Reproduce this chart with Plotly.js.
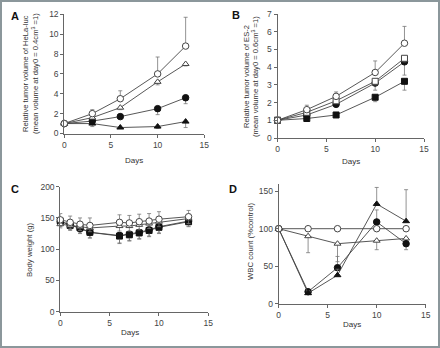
<!DOCTYPE html>
<html><head><meta charset="utf-8">
<script src="https://cdn.plot.ly/plotly-3.0.1.min.js"></script>
<style>html,body{margin:0;padding:0;background:#fff}#c{width:440px;height:348px}</style>
</head><body><div id="c"></div>
<script>
// ---- data ----
const days = [0, 3, 6, 10, 13];
const daysC = [0, 1, 2, 3, 6, 7, 8, 9, 10, 13];

// Panel A: HeLa-luc relative tumor volume
const aOpenCircle = [1, 2.0, 3.5, 6.0, 8.8];
const aOpenCircleErrUp = [0, 0.4, 0.8, 1.7, 2.9];
const aOpenTri = [1, 1.6, 2.6, 5.2, 7.0];
const aOpenTriErrDown = [0, 0.1, 0.2, 0.3, 0.2];
const aFilledCircle = [1, 1.25, 1.7, 2.5, 3.6];
const aFilledCircleErrDown = [0, 0.2, 0.2, 0.6, 0.6];
const aFilledTri = [1, 1.0, 0.6, 0.7, 1.2];
const aFilledTriErrDown = [0, 0.3, 0.1, 0.2, 0.6];

// Panel B: ES-2 relative tumor volume
const bOpenCircle = [1, 1.6, 2.35, 3.7, 5.35];
const bOpenCircleErrUp = [0, 0.25, 0.25, 0.65, 0.95];
const bOpenSquare = [1, 1.45, 2.1, 3.2, 4.5];
const bOpenSquareErrDown = [0, 0.1, 0.15, 0.2, 0.2];
const bFilledCircle = [1, 1.3, 1.9, 3.1, 4.3];
const bFilledCircleErrDown = [0, 0.1, 0.15, 0.4, 0.75];
const bFilledSquare = [1, 1.1, 1.3, 2.3, 3.2];
const bFilledSquareErrDown = [0, 0.1, 0.1, 0.25, 0.5];

// Panel C: body weight
const cOpenCircle = [147, 143, 140, 138, 143, 142, 144, 145, 148, 152];
const cOpenCircleErrUp = [10, 10, 10, 12, 12, 12, 12, 12, 12, 10];
const cOpenTri = [140, 138, 136, 134, 137, 137, 139, 141, 144, 149];
const cOpenTriErrDown = [6, 6, 6, 6, 8, 8, 8, 8, 8, 8];
const cFilledCircle = [144, 140, 133, 127, 122, 124, 127, 131, 136, 145];
const cFilledCircleErrDown = [8, 8, 8, 9, 12, 10, 10, 10, 10, 8];
const cFilledSquare = [145, 138, 134, 127, 121, 123, 126, 130, 135, 144];
const cFilledSquareErrDown = [8, 8, 8, 9, 12, 10, 10, 10, 10, 8];

// Panel D: WBC count
const dOpenCircle = [100, 100, 100, 100, 100];
const dOpenTri = [100, 90, 80, 84, 87];
const dOpenTriErrDown = [0, 22, 24, 12, 7];
const dFilledCircle = [100, 16, 48, 109, 80];
const dFilledCircleErrUp = [0, 3, 15, 16, 0];
const dFilledCircleErrDown = [0, 3, 0, 0, 8];
const dFilledTri = [100, 14, 38, 133, 110];
const dFilledTriErrUp = [0, 3, 8, 22, 42];

// ---- helpers ----
const W = 440, H = 348;
const fx = p => p / W;
const fy = p => 1 - p / H;
const LINE = '#444', ERR = '#777';

function tr(x, y, sym, filled, xa, ya, err) {
  const t = {
    x: x, y: y, type: 'scatter', mode: 'lines+markers', xaxis: xa, yaxis: ya,
    line: {color: LINE, width: 0.9},
    marker: {symbol: sym, size: sym === 'circle' ? 6.5 : 6,
      color: filled ? '#111' : '#fff', line: {color: filled ? '#111' : '#444', width: 1}},
    showlegend: false, hoverinfo: 'skip', cliponaxis: false
  };
  if (err) {
    t.error_y = {type: 'data', symmetric: false, array: err.up || x.map(() => 0),
      arrayminus: err.down || x.map(() => 0), color: ERR, thickness: 0.8, width: 2};
  }
  return t;
}

const data = [
  tr(days, aFilledTri, 'triangle-up', true, 'x', 'y', {down: aFilledTriErrDown}),
  tr(days, aFilledCircle, 'circle', true, 'x', 'y', {down: aFilledCircleErrDown}),
  tr(days, aOpenTri, 'triangle-up', false, 'x', 'y', {down: aOpenTriErrDown}),
  tr(days, aOpenCircle, 'circle', false, 'x', 'y', {up: aOpenCircleErrUp}),

  tr(days, bFilledSquare, 'square', true, 'x2', 'y2', {down: bFilledSquareErrDown}),
  tr(days, bFilledCircle, 'circle', true, 'x2', 'y2', {down: bFilledCircleErrDown}),
  tr(days, bOpenSquare, 'square', false, 'x2', 'y2', {down: bOpenSquareErrDown}),
  tr(days, bOpenCircle, 'circle', false, 'x2', 'y2', {up: bOpenCircleErrUp}),

  tr(daysC, cFilledSquare, 'square', true, 'x3', 'y3', {down: cFilledSquareErrDown}),
  tr(daysC, cFilledCircle, 'circle', true, 'x3', 'y3', {down: cFilledCircleErrDown}),
  tr(daysC, cOpenTri, 'triangle-up', false, 'x3', 'y3', {down: cOpenTriErrDown}),
  tr(daysC, cOpenCircle, 'circle', false, 'x3', 'y3', {up: cOpenCircleErrUp}),

  tr(days, dOpenTri, 'triangle-up', false, 'x4', 'y4', {down: dOpenTriErrDown}),
  tr(days, dFilledCircle, 'circle', true, 'x4', 'y4', {up: dFilledCircleErrUp, down: dFilledCircleErrDown}),
  tr(days, dFilledTri, 'triangle-up', true, 'x4', 'y4', {up: dFilledTriErrUp}),
  tr(days, dOpenCircle, 'circle', false, 'x4', 'y4', null)
];

const FONT = 'Liberation Sans, Arial, sans-serif';
function xax(l, r, anchor) {
  return {domain: [fx(l), fx(r)], anchor: anchor, range: [0, 15], dtick: 5, tick0: 0,
    showline: true, linecolor: '#666', linewidth: 1, ticks: 'outside', ticklen: 3,
    tickcolor: '#666', showgrid: false, zeroline: false,
    tickfont: {size: 8.5, color: '#444', family: FONT}};
}
function yax(b, t, anchor, range, dtick) {
  return {domain: [fy(b), fy(t)], anchor: anchor, range: range, dtick: dtick, tick0: 0,
    showline: true, linecolor: '#666', linewidth: 1, ticks: 'outside', ticklen: 3,
    tickcolor: '#666', showgrid: false, zeroline: false,
    tickfont: {size: 8.5, color: '#444', family: FONT}};
}

function ann(text, px, py, size, opts) {
  return Object.assign({text: text, x: fx(px), y: fy(py), xref: 'paper', yref: 'paper',
    showarrow: false, xanchor: 'center', yanchor: 'middle',
    font: {size: size, color: '#333', family: FONT}}, opts || {});
}

const annotations = [
  ann('<b>A</b>', 15, 16, 11, {font: {size: 11, color: '#111', family: FONT}}),
  ann('<b>B</b>', 236, 15, 11, {font: {size: 11, color: '#111', family: FONT}}),
  ann('<b>C</b>', 15, 189, 11, {font: {size: 11, color: '#111', family: FONT}}),
  ann('<b>D</b>', 233, 189, 11, {font: {size: 11, color: '#111', family: FONT}}),
  ann('Days', 134, 160, 8), ann('Days', 351, 161, 8),
  ann('Days', 130, 332, 8), ann('Days', 352, 324, 8),
  ann('Relative tumor volume of HeLa-luc', 25, 74, 7.6, {textangle: -90}),
  ann('(mean volume at day0 = 0.4cm<sup>3</sup> =1)', 35, 74, 7.6, {textangle: -90}),
  ann('Relative tumor volume of ES-2', 246, 77, 7.6, {textangle: -90}),
  ann('(mean volume at day0 = 0.6cm<sup>3</sup> =1)', 255, 77, 7.6, {textangle: -90}),
  ann('Body weight (g)', 29, 249, 7.8, {textangle: -90}),
  ann('WBC count (%control)', 250, 241, 7.8, {textangle: -90})
];

const layout = {
  width: W, height: H, margin: {l: 0, r: 0, t: 0, b: 0},
  paper_bgcolor: '#fff', plot_bgcolor: 'rgba(0,0,0,0)',
  font: {family: FONT, color: '#333'},
  xaxis: xax(64.3, 204.3, 'y'),
  yaxis: yax(133.5, 14.3, 'x', [0, 12], 2),
  xaxis2: xax(277.5, 424, 'y2'),
  yaxis2: yax(138, 14, 'x2', [0, 7], 1),
  xaxis3: xax(60.3, 208.3, 'y3'),
  yaxis3: yax(311.7, 186.7, 'x3', [0, 200], 50),
  xaxis4: xax(278.7, 425.7, 'y4'),
  yaxis4: yax(303.7, 183.7, 'x4', [0, 160], 50),
  annotations: annotations,
  shapes: [{type: 'rect', xref: 'paper', yref: 'paper', x0: 0, x1: 1, y0: 0, y1: 1,
    line: {color: '#8b979b', width: 4}, fillcolor: 'rgba(0,0,0,0)', layer: 'above'}]
};

Plotly.newPlot('c', data, layout, {staticPlot: true, displayModeBar: false});
</script></body></html>
